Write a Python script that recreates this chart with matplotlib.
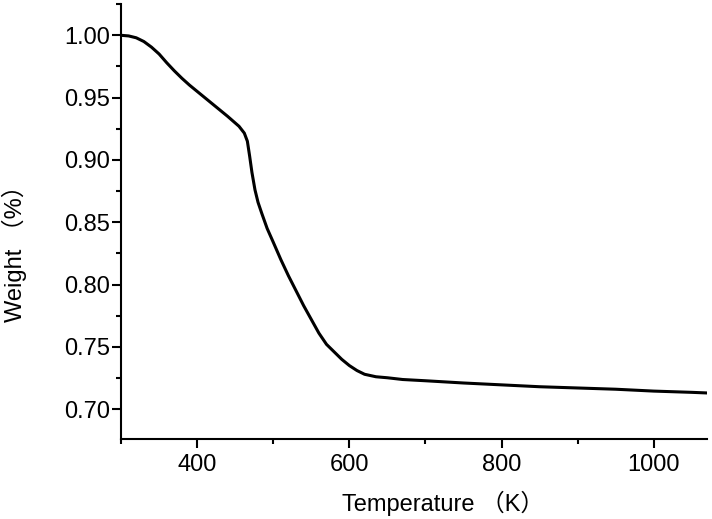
import matplotlib
matplotlib.use("Agg")
import matplotlib.pyplot as plt
from matplotlib.ticker import MultipleLocator

# TGA curve
temperature = [300, 310, 320, 330, 340, 350, 360, 370, 380, 390, 400, 420, 440, 455, 462,
               466, 469, 472, 476, 480, 485, 492, 500, 510, 520, 530, 540, 550, 560, 570,
               580, 590, 600, 610, 620, 635, 650, 670, 700, 750, 800, 850, 900, 950, 1000,
               1050, 1070]
weight = [1.000, 0.9995, 0.998, 0.995, 0.9905, 0.985, 0.978, 0.9715, 0.9655, 0.960, 0.955,
          0.945, 0.935, 0.927, 0.9215, 0.915, 0.903, 0.890, 0.876, 0.866, 0.857, 0.845, 0.834,
          0.820, 0.807, 0.795, 0.783, 0.772, 0.761, 0.752, 0.746, 0.740, 0.735, 0.731, 0.728,
          0.726, 0.7252, 0.7238, 0.7228, 0.721, 0.7195, 0.718, 0.717, 0.716, 0.7145, 0.7135,
          0.713]

x_label = "Temperature （K）"
y_label = "Weight （%）"


def main():
	plt.rcParams['font.family'] = ['Liberation Sans', 'Noto Sans CJK SC', 'DejaVu Sans']

	fig = plt.figure(figsize=(7.12, 5.19), dpi=100)
	ax = fig.add_axes([0.170, 0.154, 0.823, 0.838])

	ax.plot(temperature, weight, color="black", linewidth=2.2)

	ax.set_xlim(300, 1070)
	ax.set_ylim(0.676, 1.025)

	ax.xaxis.set_major_locator(MultipleLocator(200))
	ax.xaxis.set_minor_locator(MultipleLocator(100))
	ax.yaxis.set_major_locator(MultipleLocator(0.05))
	ax.yaxis.set_minor_locator(MultipleLocator(0.025))
	ax.yaxis.set_major_formatter(plt.FormatStrFormatter('%.2f'))

	for side in ["top", "right"]:
		ax.spines[side].set_visible(False)
	for side in ["left", "bottom"]:
		ax.spines[side].set_linewidth(1.5)

	ax.tick_params(which="major", direction="out", length=6.5, width=1.5, labelsize=17)
	ax.tick_params(which="minor", direction="out", length=3.3, width=1.5)
	ax.tick_params(axis="y", which="major", pad=1.5)
	ax.tick_params(axis="x", which="major", pad=4)

	ax.set_xlabel(x_label, fontsize=17)
	ax.set_ylabel(y_label, fontsize=17)
	ax.xaxis.set_label_coords(0.55, -0.12)
	ax.yaxis.set_label_coords(-0.16, 0.44)

	fig.savefig("out.png", dpi=100)


if __name__ == "__main__":
	main()
